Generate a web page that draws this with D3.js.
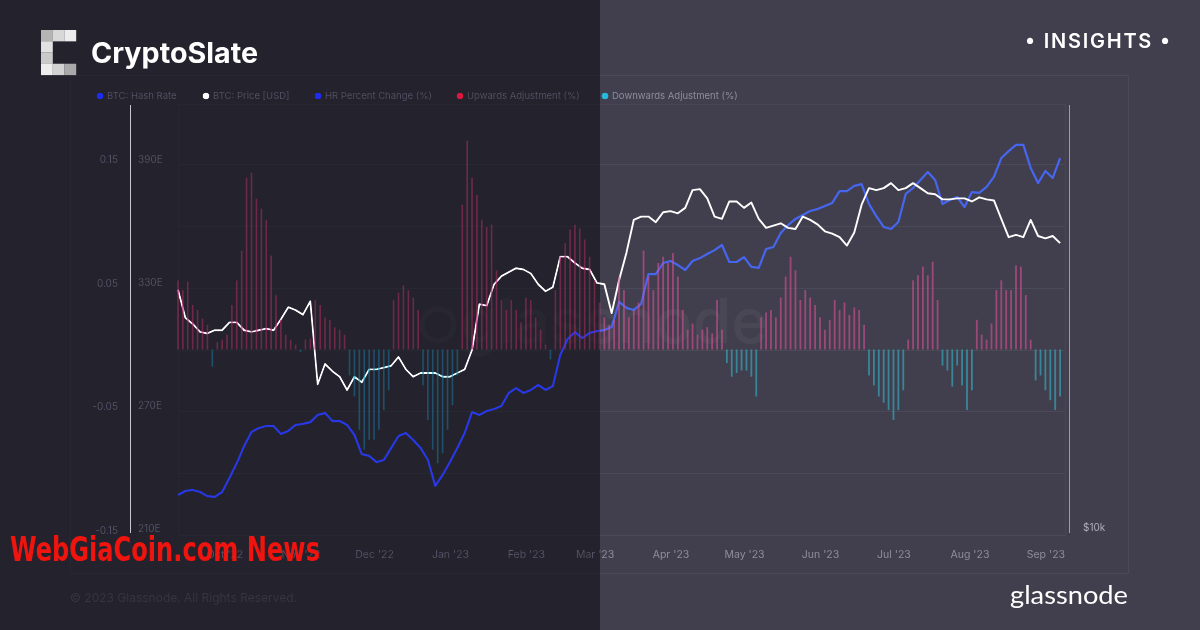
<!DOCTYPE html>
<html>
<head>
<meta charset="utf-8">
<script src="https://cdn.jsdelivr.net/npm/d3@7"></script>
<style>
  html, body { margin: 0; padding: 0; background: #413f4d; }
  svg { display: block; font-family: Inter, "Noto Sans", sans-serif; }
</style>
</head>
<body>
<svg id="chart" width="1200" height="630"></svg>
<script>
// series start dates (UTC)
const lineStart = new Date(Date.UTC(2022, 8, 12)); // one point every 3 days
const barStart = new Date(Date.UTC(2022, 8, 12));  // one bar every 2 days

// BTC hash rate, EH/s
const hashRate = [
  228.5, 230.5, 231, 230, 228, 227.6, 230, 236.8, 244.1, 252.4,
  259.3, 261.2, 262.2, 262.2, 258.3, 259.8, 262.7, 263.2, 264.1, 267.6,
  268.5, 264.6, 264.6, 262.7, 257.8, 248.5, 247.6, 244.6, 245.6, 251.5,
  257.3, 258.8, 255.4, 251.5, 245.6, 233, 238.3, 244.6, 251.5, 258.8,
  269, 267.6, 269.5, 270.5, 272, 278.3, 280.7, 278.3, 279.8, 282.2,
  279.8, 281.7, 296.8, 304.6, 308, 305.1, 307.6, 308.5, 309, 310.5,
  322.7, 319.8, 318.8, 321.7, 336.3, 336.3, 341.7, 342.7, 340.7, 338.3,
  342.7, 344.1, 346.1, 348, 350.5, 342.2, 342.2, 344.6, 339.8, 339.3,
  348.5, 349.5, 356.3, 360.2, 363.2, 365.1, 367.1, 368, 369.5, 371,
  376.8, 376.8, 379.3, 380.2, 370.5, 364.6, 359.3, 358.3, 361.7, 375.4,
  378.3, 382.2, 386.1, 382.2, 370.5, 372.4, 373.9, 369, 376.3, 375.9,
  378.8, 383.7, 392.9, 396.3, 399.3, 399.3, 388, 380.7, 386.6, 383.2,
  392.9
];

// BTC price, thousands of USD
const price = [
  22.0, 20.1, 19.7, 19.2, 19.1, 19.3, 19.3, 19.8, 19.8, 19.3,
  19.2, 19.3, 19.4, 19.3, 20.0, 20.8, 20.6, 20.3, 21.2, 16.2,
  17.3, 16.9, 16.6, 15.9, 16.6, 16.3, 17.0, 17.0, 17.1, 17.2,
  17.7, 17.0, 16.6, 16.8, 16.8, 16.8, 16.6, 16.6, 16.8, 17.0,
  18.1, 21.0, 20.9, 22.4, 23.0, 23.3, 23.6, 23.5, 23.2, 22.4,
  21.9, 22.2, 24.5, 24.5, 24.0, 23.6, 23.5, 22.5, 22.4, 20.4,
  22.7, 24.8, 27.6, 27.9, 27.9, 27.4, 28.3, 28.4, 28.2, 28.7,
  30.4, 30.5, 29.6, 27.9, 27.7, 29.3, 29.3, 28.7, 29.2, 27.7,
  26.9, 27.1, 27.3, 26.9, 26.8, 27.9, 27.6, 27.2, 26.6, 26.4,
  26.1, 25.4, 26.5, 29.0, 30.6, 30.4, 30.6, 31.1, 30.4, 30.6,
  31.1, 30.6, 30.1, 30.0, 29.5, 29.5, 29.6, 29.6, 29.3, 29.7,
  29.5, 29.4, 27.7, 26.1, 26.3, 26.1, 27.6, 26.2, 26.0, 26.2,
  25.6
];

// hash rate percent change (positive = upwards, negative = downwards adjustment)
const hrChange = [
  0.056, 0.048, 0.055, 0.036, 0.032, 0.025, 0.020, -0.014, 0.006, 0.008,
  0.012, 0.036, 0.056, 0.080, 0.139, 0.143, 0.122, 0.114, 0.105, 0.076,
  0.044, 0.024, 0.012, 0.008, 0.004, -0.002, 0.008, 0.009, 0.040, 0.036,
  0.026, 0.024, 0.018, 0.016, 0.012, -0.021, -0.038, -0.065, -0.081, -0.073,
  -0.073, -0.065, -0.049, -0.033, 0.040, 0.046, 0.052, 0.048, 0.042, 0.032,
  -0.029, -0.057, -0.081, -0.092, -0.084, -0.065, -0.045, -0.021, 0.117, 0.169,
  0.139, 0.125, 0.105, 0.099, 0.101, 0.064, 0.040, 0.032, 0.040, 0.032,
  0.022, 0.042, 0.040, 0.026, 0.016, 0.004, -0.008, 0.048, 0.075, 0.086,
  0.097, 0.101, 0.098, 0.089, 0.075, 0.056, 0.038, 0.026, 0.020, 0.024,
  0.059, 0.048, 0.026, 0.032, 0.038, 0.080, 0.059, 0.048, 0.070, 0.075,
  0.070, 0.078, 0.059, 0.032, 0.016, 0.021, 0.012, 0.016, 0.018, 0.013,
  0.040, 0.016, -0.011, -0.022, -0.019, -0.017, -0.017, -0.022, -0.038, 0.026,
  0.030, 0.032, 0.026, 0.042, 0.059, 0.075, 0.064, 0.040, 0.048, 0.042,
  0.036, 0.026, 0.016, 0.024, 0.040, 0.032, 0.038, 0.028, 0.034, 0.032,
  0.020, -0.021, -0.029, -0.038, -0.043, -0.049, -0.057, -0.049, -0.033, 0.008,
  0.056, 0.060, 0.067, 0.060, 0.071, 0.040, -0.013, -0.017, -0.030, -0.013,
  -0.029, -0.049, -0.033, 0.024, 0.012, 0.008, 0.021, 0.048, 0.056, 0.048,
  0.048, 0.068, 0.067, 0.044, 0.008, -0.025, -0.021, -0.033, -0.041, -0.049,
  -0.038
];

const legendNames = ['BTC: Hash Rate', 'BTC: Price [USD]', 'HR Percent Change (%)', 'Upwards Adjustment (%)', 'Downwards Adjustment (%)'];
const gridTicks = [0.15, 0.1, 0.05, 0, -0.05, -0.1, -0.15];
const pctTicks = [0.15, 0.05, -0.05, -0.15];
const pctTickLabels = ['0.15', '0.05', '-0.05', '-0.15'];
const hashTicks = [390, 330, 270, 210];
const hashTickLabels = ['390E', '330E', '270E', '210E'];
const priceTicks = [10];
const priceTickLabels = ['$10k'];

const colors = {
  hash: '#4766f0', price: '#ffffff', up: '#d8509a', down: '#33b5cc',
  legendDots: ['#3553f5', '#ffffff', '#3553f5', '#e8286e', '#28b8dc']
};

const svg = d3.select('#chart');

const x = d3.scaleUtc()
  .domain([new Date(Date.UTC(2022, 8, 12)), new Date(Date.UTC(2023, 8, 9))])
  .range([178, 1065]);
const yPct = d3.scaleLinear().domain([-0.15, 0.15]).range([535, 164]);
const yHash = d3.scaleLinear().domain([210, 390]).range([533, 164]);
const yPrice = d3.scaleLog().domain([10, 40]).range([533, 105.5]);

const lineDates = hashRate.map((d, i) => d3.utcDay.offset(lineStart, 3 * i));
const barDates = hrChange.map((d, i) => d3.utcDay.offset(barStart, 2 * i));

// background + frames
svg.append('rect').attr('width', 1200).attr('height', 630).attr('fill', '#413f4d');
svg.append('rect').attr('x', 70.5).attr('y', 75.5).attr('width', 1058).attr('height', 498)
  .attr('fill', 'none').attr('stroke', '#4a4957');
svg.append('rect').attr('x', 178.5).attr('y', 104.5).attr('width', 887).attr('height', 431)
  .attr('fill', 'none').attr('stroke', '#484755');

svg.append('g').selectAll('line').data(gridTicks).join('line')
  .attr('x1', 178).attr('x2', 1065)
  .attr('y1', d => Math.round(yPct(d)) + 0.5).attr('y2', d => Math.round(yPct(d)) + 0.5)
  .attr('stroke', '#4a4957');

// glassnode watermark
const wm = svg.append('g').attr('opacity', 0.04);
wm.append('circle').attr('cx', 438).attr('cy', 325).attr('r', 16)
  .attr('fill', 'none').attr('stroke', '#fff').attr('stroke-width', 5);
wm.append('text').attr('x', 460).attr('y', 343).attr('font-size', 62).attr('font-weight', 500)
  .attr('fill', '#fff').attr('textLength', 308).attr('lengthAdjust', 'spacingAndGlyphs').text('glassnode');

// lines
svg.append('path').datum(hashRate)
  .attr('d', d3.line().x((d, i) => x(lineDates[i])).y(d => yHash(d)))
  .attr('fill', 'none').attr('stroke', colors.hash).attr('stroke-width', 2.2).attr('stroke-linejoin', 'round');

svg.append('path').datum(price)
  .attr('d', d3.line().x((d, i) => x(lineDates[i])).y(d => yPrice(d)))
  .attr('fill', 'none').attr('stroke', colors.price).attr('stroke-width', 1.9).attr('stroke-linejoin', 'round');

// bars on top of the lines
svg.append('g').selectAll('rect').data(hrChange).join('rect')
  .attr('x', (d, i) => x(barDates[i]) - 0.9)
  .attr('width', 1.8)
  .attr('y', d => yPct(Math.max(d, 0)))
  .attr('height', d => Math.abs(yPct(d) - yPct(0)))
  .attr('fill', d => d >= 0 ? colors.up : colors.down)
  .attr('opacity', 0.6);

// axis lines
svg.append('line').attr('x1', 130.5).attr('x2', 130.5).attr('y1', 105).attr('y2', 533)
  .attr('stroke', '#d9d9e0');
svg.append('line').attr('x1', 1069.5).attr('x2', 1069.5).attr('y1', 105).attr('y2', 533)
  .attr('stroke', '#9e9cad');

// y labels
const tickStyle = g => g.attr('font-size', 10).attr('fill', '#908e9c');
svg.append('g').call(tickStyle).selectAll('text').data(pctTicks).join('text')
  .attr('x', 118).attr('y', d => yPct(d) - 1).attr('text-anchor', 'end')
  .text((d, i) => pctTickLabels[i]);
svg.append('g').call(tickStyle).selectAll('text').data(hashTicks).join('text')
  .attr('x', 138).attr('y', d => yHash(d) - 1)
  .text((d, i) => hashTickLabels[i]);
svg.append('g').call(tickStyle).attr('fill', '#aeacba').selectAll('text').data(priceTicks).join('text')
  .attr('x', 1083).attr('y', d => yPrice(d) - 2)
  .text((d, i) => priceTickLabels[i]);

// x axis
const xAxis = svg.append('g').attr('transform', 'translate(0,558)')
  .call(d3.axisBottom(x).ticks(d3.utcMonth.every(1)).tickFormat(d3.utcFormat("%b '%y")).tickSize(0));
xAxis.select('.domain').remove();
xAxis.selectAll('text').attr('y', 0).attr('dy', 0)
  .attr('font-family', 'Inter, "Noto Sans", sans-serif').attr('font-size', 10.5).attr('fill', '#8f8d9c');

// legend
const legendX = [100, 206, 318, 460, 605];
const lg = svg.append('g').selectAll('g').data(legendNames).join('g')
  .attr('transform', (d, i) => `translate(${legendX[i]},96)`);
lg.append('circle').attr('r', 3.3).attr('fill', (d, i) => colors.legendDots[i]);
lg.append('text').attr('x', 7).attr('y', 3.4).attr('font-size', 9.5).attr('fill', '#8e8c9a').text(d => d);

// dark left panel of the card
svg.append('rect').attr('width', 600).attr('height', 630).attr('fill', '#454548')
  .style('mix-blend-mode', 'overlay');

// card branding
const cells = [
  [0, 0, '#b4b4b4'], [1, 0, '#d8d8d8'], [2, 0, '#ececec'],
  [0, 1, '#e2e2e2'], [0, 2, '#cacaca'],
  [0, 3, '#ededed'], [1, 3, '#d2d2d2'], [2, 3, '#a9a9a9']
];
svg.append('g').selectAll('rect').data(cells).join('rect')
  .attr('x', d => 41 + d[0] * 11.7).attr('y', d => 30 + d[1] * 11.25)
  .attr('width', 11.8).attr('height', 11.35).attr('fill', d => d[2]);

svg.append('text').attr('x', 91).attr('y', 63).attr('font-size', 28).attr('font-weight', 700)
  .attr('fill', '#ffffff').attr('textLength', 167).attr('lengthAdjust', 'spacingAndGlyphs').text('CryptoSlate');

svg.append('text').attr('x', 1025).attr('y', 48).attr('font-size', 20).attr('font-weight', 600)
  .attr('fill', '#ffffff').attr('textLength', 145).attr('lengthAdjust', 'spacing').text('\u2022 INSIGHTS \u2022');

svg.append('text').attr('x', 70).attr('y', 602).attr('font-size', 12).attr('fill', '#363542')
  .text('\u00a9 2023 Glassnode. All Rights Reserved.');

svg.append('text').attr('x', 1010).attr('y', 604).attr('font-size', 25)
  .attr('font-family', 'Lato, "Noto Sans", sans-serif')
  .attr('fill', '#ffffff').attr('textLength', 118).attr('lengthAdjust', 'spacingAndGlyphs').text('glassnode');

svg.append('text').attr('x', 10).attr('y', 561).attr('font-size', 33).attr('font-weight', 700)
  .attr('font-family', '"Liberation Sans Narrow", "DejaVu Sans Condensed", sans-serif')
  .attr('fill', '#f0140f').attr('textLength', 310).attr('lengthAdjust', 'spacingAndGlyphs')
  .text('WebGiaCoin.com News');
</script>
</body>
</html>
